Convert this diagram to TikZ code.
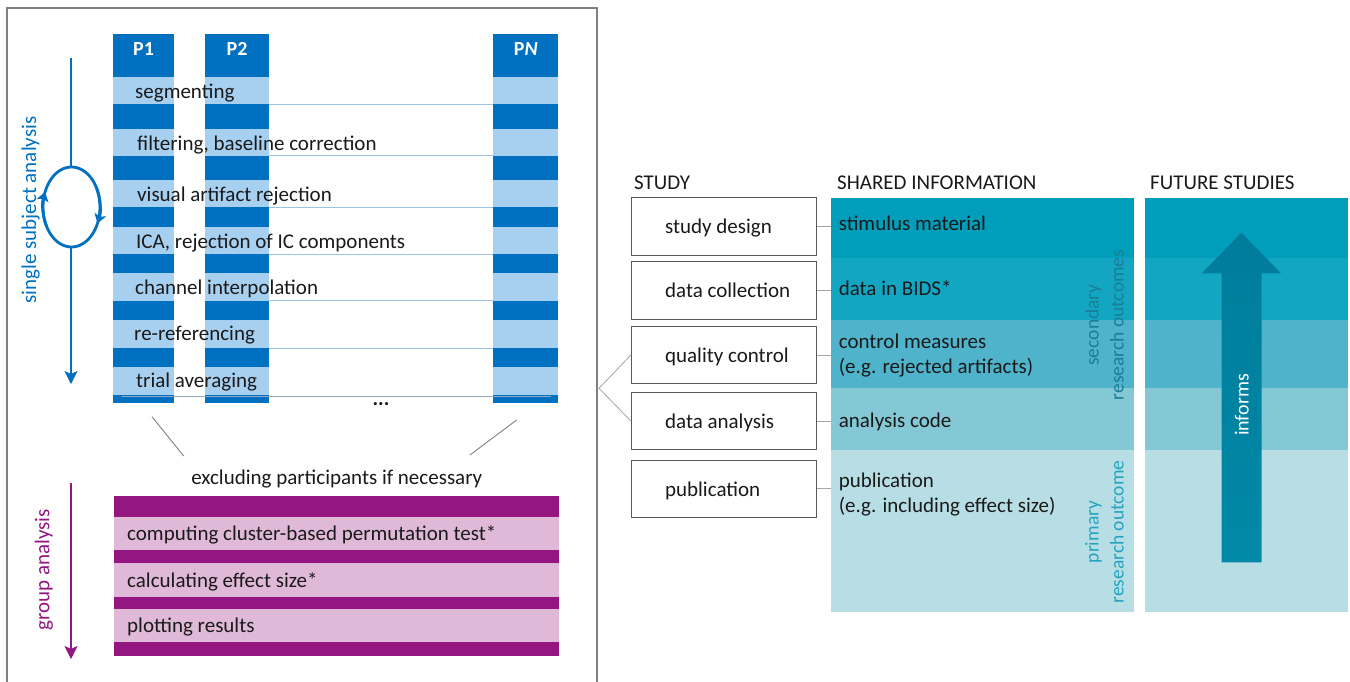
\documentclass[tikz,border=0pt]{standalone}
\usepackage{fontspec}
\setmainfont{Carlito}
\usetikzlibrary{arrows.meta}

\definecolor{pdark}{HTML}{0070C0}
\definecolor{plight}{HTML}{A7D0F0}
\definecolor{pline}{HTML}{9DC3E6}
\definecolor{gdark}{HTML}{941680}
\definecolor{glight}{HTML}{E1B9D8}
\definecolor{bandA}{HTML}{009EBB}
\definecolor{bandB}{HTML}{13A6C2}
\definecolor{bandC}{HTML}{4FB3CB}
\definecolor{bandD}{HTML}{84C7D5}
\definecolor{bandE}{HTML}{B8DEE5}
\definecolor{arrowtop}{HTML}{007C9B}
\definecolor{arrowbot}{HTML}{0089A7}
\definecolor{secteal}{HTML}{1A7E97}
\definecolor{primteal}{HTML}{25A4BF}
\definecolor{framegrey}{HTML}{808080}
\definecolor{boxgrey}{HTML}{595959}
\definecolor{linkgrey}{HTML}{A6A6A6}
\definecolor{textgrey}{HTML}{1A1A1A}

\begin{document}
\begin{tikzpicture}[x=1pt,y=-1pt,
  txt/.style={font=\fontsize{21}{25}\selectfont, text=textgrey, inner sep=0pt,
              text height=17pt, text depth=2pt},
  multi/.style={font=\fontsize{21}{25}\selectfont, text=textgrey, inner sep=0pt, align=left},
  rotlabel/.style={font=\fontsize{20}{25}\selectfont, inner sep=0pt, align=center, rotate=90},
  colhead/.style={font=\fontsize{20}{24}\selectfont\bfseries, text=white, inner sep=0pt},
  stepbox/.style={draw=boxgrey, line width=1pt, minimum width=185pt, minimum height=57.3pt, inner sep=0pt},
  link/.style={linkgrey, line width=1pt},
  flowline/.style={line width=1.3pt},
  flowtip/.style={-{Stealth[length=13pt,width=13pt,inset=3pt]}},
  looptip/.style={-{Stealth[length=9pt,width=12pt,inset=2pt]}}
]
\useasboundingbox (0,0) rectangle (1350,682);
\fill[white] (0,0) rectangle (1350,682);

% ---------- left panel frame ----------
\draw[framegrey, line width=1.3pt] (7,690) -- (7,8) -- (597,8) -- (597,690);

% ---------- participant columns ----------
\foreach \xa/\xb in {113/174, 205/269, 493/558}{
  \fill[pdark] (\xa,34) rectangle (\xb,403);
  \foreach \ya/\yb in {76.7/104.3, 129.3/156, 180/207.3, 226.7/254, 272.7/300.7, 320/348.3, 366.7/395}
    \fill[plight] (\xa,\ya) rectangle (\xb,\yb);
}
\foreach \y in {104.3, 156, 207.3, 254, 300.7, 348.3}
  \draw[pline, line width=1pt] (269,\y) -- (493,\y);
\draw[pline!60!gray, line width=1pt] (122,396) -- (551,396);

\node[colhead] (p1) at (143.5,49) {P1};
\node[colhead] (p2) at (237,49) {P2};
\node[colhead] (pn) at (525.8,49) {P\textit{N}};

% ---------- preprocessing steps ----------
\node[txt, anchor=west] (s1) at (135,91)  {segmenting};
\node[txt, anchor=west] (s2) at (137,143.3) {filtering, baseline correction};
\node[txt, anchor=west] (s3) at (137,194.3) {visual artifact rejection};
\node[txt, anchor=west] (s4) at (136,240.7) {ICA, rejection of IC components};
\node[txt, anchor=west] (s5) at (135,287.3) {channel interpolation};
\node[txt, anchor=west] (s6) at (134,333.3) {re-referencing};
\node[txt, anchor=west] (s7) at (136,380) {trial averaging};
\node[txt, font=\fontsize{21}{25}\selectfont\bfseries] (dots) at (381,398) {...};

% ---------- single subject analysis arrow with loop ----------
\node[rotlabel, font=\fontsize{21}{25}\selectfont, text=pdark] (ssa) at (30.6,210) {single subject analysis};
\coordinate (ssTop) at (71,58);
\coordinate (loopTop) at (71,167);
\coordinate (loopBot) at (71,247);
\coordinate (ssEnd) at (71,384);
\draw[pdark, flowline] (ssTop) -- (loopTop);
\draw[pdark, flowline, flowtip] (loopBot) -- (ssEnd);
\draw[pdark, line width=2.8pt] (71.5,207) ellipse [x radius=28.5, y radius=40];
\draw[pdark, line width=2.8pt, looptip] (71.5,207) ++(150:28.5 and 40)
  arc[start angle=150, end angle=202, x radius=28.5, y radius=40];
\draw[pdark, line width=2.8pt, looptip] (71.5,207) ++(-30:28.5 and 40)
  arc[start angle=-30, end angle=24, x radius=28.5, y radius=40];

% ---------- transition to group level ----------
\node[txt] (excl) at (336.8,476.7) {excluding participants if necessary};
\coordinate (dl1) at (152,416.7);
\coordinate (dl2) at (183.7,456);
\coordinate (dr1) at (516.6,420);
\coordinate (dr2) at (470,455);
\draw[framegrey, line width=0.9pt] (dl1) -- (dl2);
\draw[framegrey, line width=0.9pt] (dr1) -- (dr2);

% ---------- group analysis ----------
\fill[gdark] (114,495.7) rectangle (558.7,656);
\foreach \ya/\yb in {517.3/550, 563.3/596.7, 609/641.7}
  \fill[glight] (114,\ya) rectangle (558.7,\yb);
\node[txt, anchor=west] (g1) at (127,533.3) {computing cluster-based permutation test*};
\node[txt, anchor=west] (g2) at (127,580) {calculating effect size*};
\node[txt, anchor=west] (g3) at (127,625) {plotting results};

\node[rotlabel, font=\fontsize{21}{25}\selectfont, text=gdark] (ga) at (44,570) {group analysis};
\coordinate (gaTop) at (71,483);
\coordinate (gaEnd) at (71,659);
\draw[gdark, flowline, flowtip] (gaTop) -- (gaEnd);

% ---------- headings ----------
\node[txt, anchor=west] (hStudy) at (634,182) {STUDY};
\node[txt, anchor=west] (hShared) at (837,182) {SHARED INFORMATION};
\node[txt, anchor=west] (hFuture) at (1150,182) {FUTURE STUDIES};

% ---------- shared information and future studies columns ----------
\foreach \xa/\xb in {831.4/1133.6, 1145/1348}{
  \fill[bandA] (\xa,197.7) rectangle (\xb,258.3);
  \fill[bandB] (\xa,258.3) rectangle (\xb,320);
  \fill[bandC] (\xa,320) rectangle (\xb,387.7);
  \fill[bandD] (\xa,387.7) rectangle (\xb,450);
  \fill[bandE] (\xa,450) rectangle (\xb,611.7);
}
\coordinate (colL) at (831.4,0);

\node[txt, anchor=west] (i1) at (838.6,223.3) {stimulus material};
\node[txt, anchor=west] (i2) at (838.6,288.3) {data in BIDS*};
\node[multi, anchor=west] (i3) at (838.6,356) {\strut control measures\\\strut (e.g. rejected artifacts)};
\node[txt, anchor=west] (i4) at (838.6,420) {analysis code};
\node[multi, anchor=west] (i5) at (838.6,494.5) {\strut publication\\\strut (e.g. including effect size)};

\node[rotlabel, font=\fontsize{19.5}{25}\selectfont, text=secteal] (sec) at (1106,325) {\strut secondary\\\strut research outcomes};
\node[rotlabel, font=\fontsize{19.5}{25}\selectfont, text=primteal] (prim) at (1106,532) {\strut primary\\\strut research outcome};

% ---------- informs arrow ----------
\shade[top color=arrowtop, bottom color=arrowbot]
  (1221.7,562.3) -- (1221.7,273.3) -- (1201.7,273.3) -- (1241.4,232.7)
  -- (1281,273.3) -- (1261.7,273.3) -- (1261.7,562.3) -- cycle;
\node[rotlabel, font=\fontsize{20}{24}\selectfont, text=white] (inf) at (1241.7,405) {informs};

% ---------- study steps ----------
\node[stepbox] (b1) at (723.9,226.35) {};
\node[stepbox] (b2) at (723.9,290.35) {};
\node[stepbox] (b3) at (723.9,355) {};
\node[stepbox] (b4) at (723.9,421) {};
\node[stepbox] (b5) at (723.9,488.65) {};
\node[txt, anchor=west] at ([xshift=34pt]b1.west) {study design};
\node[txt, anchor=west] at ([xshift=34pt]b2.west) {data collection};
\node[txt, anchor=west] at ([xshift=34pt]b3.west) {quality control};
\node[txt, anchor=west] at ([xshift=34pt]b4.west) {data analysis};
\node[txt, anchor=west] at ([xshift=34pt]b5.west) {publication};

\foreach \b in {b1,b2,b3,b4,b5}
  \draw[link] (\b.east) -- (\b.east -| colL);

\coordinate (br) at (599,388.3);
\draw[link, line width=0.8pt] (b3.west) -- (br) -- (b4.west);
\end{tikzpicture}
\end{document}
